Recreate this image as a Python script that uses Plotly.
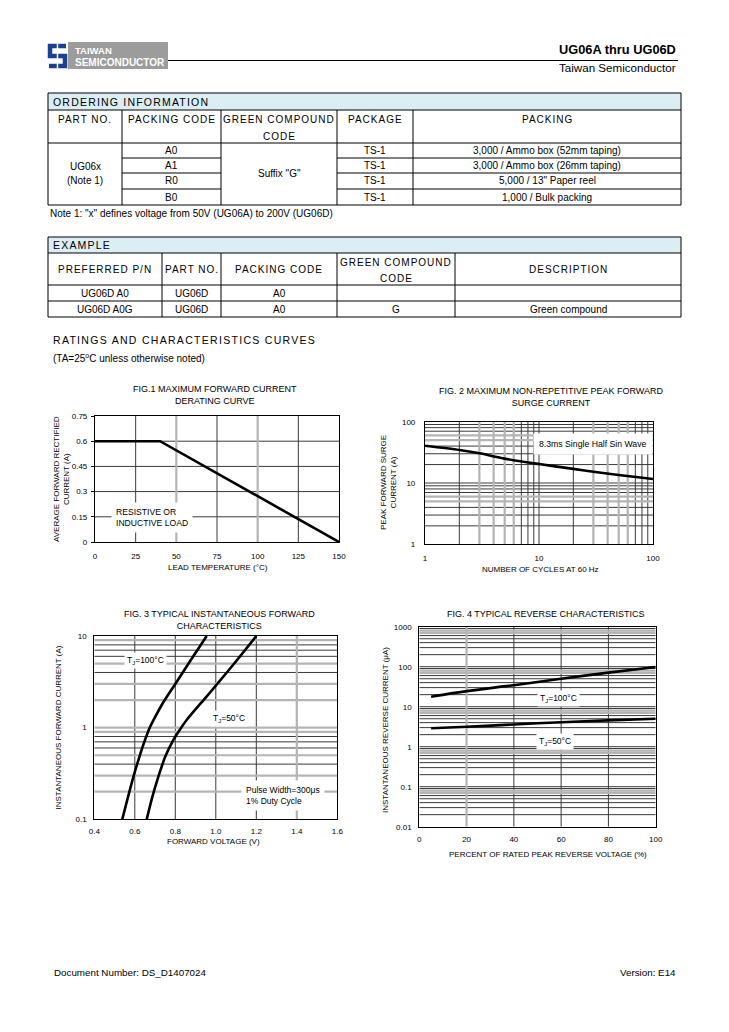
import plotly.graph_objects as go

W, H = 729, 1032
FONT = "Liberation Sans, Arial, Helvetica, sans-serif"

# ---------------- data ----------------
TITLE = "UG06A thru UG06D"
SUBTITLE = "Taiwan Semiconductor"

ORDER_TITLE = "ORDERING INFORMATION"
ORDER_HEADERS = [["PART NO."], ["PACKING CODE"], ["GREEN COMPOUND", "CODE"], ["PACKAGE"], ["PACKING"]]
ORDER_PART = ["UG06x", "(Note 1)"]
ORDER_CODES = ["A0", "A1", "R0", "B0"]
ORDER_GREEN = 'Suffix "G"'
ORDER_PACKAGE = ["TS-1", "TS-1", "TS-1", "TS-1"]
ORDER_PACKING = ["3,000 / Ammo box (52mm taping)", "3,000 / Ammo box (26mm taping)",
                 '5,000 / 13" Paper reel', "1,000 / Bulk packing"]
ORDER_NOTE = 'Note 1: "x" defines voltage from 50V (UG06A) to 200V (UG06D)'

EX_TITLE = "EXAMPLE"
EX_HEADERS = [["PREFERRED P/N"], ["PART NO."], ["PACKING CODE"], ["GREEN COMPOUND", "CODE"], ["DESCRIPTION"]]
EX_ROWS = [["UG06D A0", "UG06D", "A0", "", ""],
           ["UG06D A0G", "UG06D", "A0", "G", "Green compound"]]

SECTION = "RATINGS AND CHARACTERISTICS CURVES"
SECTION_NOTE = "(TA=25<sup>o</sup>C unless otherwise noted)"

# Fig 1
F1_TEMP = [0, 40, 150]
F1_CURRENT = [0.6, 0.6, 0.0]
F1_XTICKS = [0, 25, 50, 75, 100, 125, 150]
F1_YTICKS = [0, 0.15, 0.3, 0.45, 0.6, 0.75]
F1_YTICKTEXT = ["0", "0.15", "0.3", "0.45", "0.6", "0.75"]

# Fig 2
F2_CYCLES = [1, 2, 3, 5, 10, 20, 30, 50, 100]
F2_SURGE = [40.5, 34.6, 30.5, 25.0, 20.4, 17.0, 15.3, 13.5, 11.6]

# Fig 3
F3_V100 = [0.538, 0.565, 0.593, 0.620, 0.645, 0.672, 0.700, 0.735, 0.800, 0.875, 0.955]
F3_I100 = [0.1, 0.17, 0.29, 0.46, 0.68, 0.98, 1.3, 1.8, 3.0, 5.4, 10.0]
F3_V50 = [0.659, 0.685, 0.716, 0.750, 0.790, 0.820, 0.856, 0.947, 1.0, 1.1, 1.2]
F3_I50 = [0.1, 0.17, 0.29, 0.48, 0.73, 0.93, 1.21, 2.09, 2.87, 5.3, 10.0]
F3_XTICKS = [0.4, 0.6, 0.8, 1.0, 1.2, 1.4, 1.6]
F3_XTICKTEXT = ["0.4", "0.6", "0.8", "1.0", "1.2", "1.4", "1.6"]

# Fig 4
F4_PCT = [5, 20, 40, 60, 80, 100]
F4_I100 = [17.8, 24.5, 34.5, 50.0, 71.0, 98.0]
F4_I50 = [2.88, 3.15, 3.6, 4.1, 4.55, 5.0]
F4_YTICKS = [0.01, 0.1, 1, 10, 100, 1000]
F4_YTICKTEXT = ["0.01", "0.1", "1", "10", "100", "1000"]

FOOTER_LEFT = "Document Number: DS_D1407024"
FOOTER_RIGHT = "Version: E14"

# ---------------- helpers ----------------
def px(x):
    return x / W


def py(y):
    return 1 - y / H


annotations = []
shapes = []


def text(x, y, s, size=9, anchor="center", color="black", bold=False, ls=None,
         yanchor="middle", align=None):
    if ls:
        s = '<span style="letter-spacing:%spx">%s</span>' % (ls, s)
    if bold:
        s = "<b>%s</b>" % s
    d = dict(x=px(x), y=py(y), xref="paper", yref="paper", text=s, showarrow=False,
             xanchor=anchor, yanchor=yanchor, font=dict(family=FONT, size=size, color=color))
    if align:
        d["align"] = align
    annotations.append(d)


def hline(x0, x1, y, color="black", width=1):
    shapes.append(dict(type="line", xref="paper", yref="paper", x0=px(x0), x1=px(x1),
                       y0=py(y), y1=py(y), line=dict(color=color, width=width)))


def vline(x, y0, y1, color="black", width=1):
    shapes.append(dict(type="line", xref="paper", yref="paper", x0=px(x), x1=px(x),
                       y0=py(y0), y1=py(y1), line=dict(color=color, width=width)))


def rect(x0, y0, x1, y1, fill, line=None):
    shapes.append(dict(type="rect", xref="paper", yref="paper", x0=px(x0), x1=px(x1),
                       y0=py(y1), y1=py(y0), fillcolor=fill, layer="below",
                       line=dict(width=0 if line is None else 1, color=line or fill)))


def path(points, color, width, close=False):
    d = "M " + " L ".join("%f,%f" % (px(a), py(b)) for a, b in points)
    if close:
        d += " Z"
    shapes.append(dict(type="path", xref="paper", yref="paper", path=d,
                       line=dict(color=color, width=width),
                       fillcolor=color if close else None))


# ---------------- header ----------------
rect(68, 42, 168, 69, "#9c9c9c")
text(73, 50.5, "TAIWAN", size=9.5, anchor="left", color="white", bold=True)
text(73, 62.5, "SEMICONDUCTOR", size=10, anchor="left", color="white", bold=True)
BLUE = "#1b3f95"
path([(66, 46), (50, 46), (50, 56), (65, 56), (65, 66), (49, 66)], BLUE, 4.5)
vline(57.5, 43.5, 68.5, color="white", width=1.5)
hline(168, 678, 60.5, width=1)
text(678, 50, TITLE, size=12.8, anchor="right", bold=True)
text(678, 67.5, SUBTITLE, size=11.6, anchor="right")

LIGHT_BLUE = "#dbeef4"
BODY = 10

# ---------------- ordering table ----------------
OX = [48, 122, 221, 337, 413, 681]
OY = [93, 110, 143, 158, 173, 189, 205]
rect(OX[0], OY[0], OX[-1], OY[1], LIGHT_BLUE)
for yv in (OY[0], OY[1], OY[2], OY[-1]):
    hline(OX[0], OX[-1], yv)
for yv in OY[3:6]:
    hline(OX[1], OX[2], yv)
    hline(OX[3], OX[5], yv)
vline(OX[0], OY[0], OY[-1])
vline(OX[-1], OY[0], OY[-1])
for xv in OX[1:-1]:
    vline(xv, OY[1], OY[-1])
text(OX[0] + 3, (OY[0] + OY[1]) / 2 + 0.5, ORDER_TITLE, size=10.5, anchor="left", ls=1.2)
for i, lines in enumerate(ORDER_HEADERS):
    cx = (OX[i] + OX[i + 1]) / 2
    for j, ln in enumerate(lines):
        text(cx, 119.5 + 17 * j, ln, size=10, ls=1)
text((OX[0] + OX[1]) / 2, 166.5, ORDER_PART[0], size=BODY)
text((OX[0] + OX[1]) / 2, 180.5, ORDER_PART[1], size=BODY)
text((OX[2] + OX[3]) / 2, 174, ORDER_GREEN, size=BODY)
for r in range(4):
    cy = (OY[2 + r] + OY[3 + r]) / 2
    text((OX[1] + OX[2]) / 2, cy, ORDER_CODES[r], size=BODY)
    text((OX[3] + OX[4]) / 2, cy, ORDER_PACKAGE[r], size=BODY)
    text((OX[4] + OX[5]) / 2, cy, ORDER_PACKING[r], size=BODY)
text(48, 213, ORDER_NOTE, size=BODY, anchor="left")

# ---------------- example table ----------------
EX = [48, 162, 221, 337, 455, 681]
EY = [237, 253, 285, 301, 317]
rect(EX[0], EY[0], EX[-1], EY[1], LIGHT_BLUE)
for yv in EY:
    hline(EX[0], EX[-1], yv)
vline(EX[0], EY[0], EY[-1])
vline(EX[-1], EY[0], EY[-1])
for xv in EX[1:-1]:
    vline(xv, EY[1], EY[-1])
text(EX[0] + 3, (EY[0] + EY[1]) / 2 + 0.5, EX_TITLE, size=10.5, anchor="left", ls=1.2)
for i, lines in enumerate(EX_HEADERS):
    cx = (EX[i] + EX[i + 1]) / 2
    if len(lines) == 1:
        text(cx, 269.5, lines[0], size=10, ls=1)
    else:
        text(cx, 262, lines[0], size=10, ls=1)
        text(cx, 278, lines[1], size=10, ls=1)
for r, row in enumerate(EX_ROWS):
    cy = (EY[2 + r] + EY[3 + r]) / 2
    for i, val in enumerate(row):
        if val:
            text((EX[i] + EX[i + 1]) / 2, cy, val, size=BODY)

text(51, 340, SECTION, size=10.5, anchor="left", ls=1.3)
text(51, 358, SECTION_NOTE, size=BODY, anchor="left")

# ---------------- charts ----------------
fig = go.Figure()

DARK = "#3a3a3a"
GRAY = "#b4b4b4"


def grid(xs, ys, xr, yr, color, width, k):
    gx, gy = [], []
    for v in xs:
        gx += [v, v, None]
        gy += [yr[0], yr[1], None]
    for v in ys:
        gx += [xr[0], xr[1], None]
        gy += [v, v, None]
    fig.add_trace(go.Scatter(x=gx, y=gy, mode="lines", line=dict(color=color, width=width),
                             hoverinfo="skip", showlegend=False,
                             xaxis="x%s" % ("" if k == 1 else k), yaxis="y%s" % ("" if k == 1 else k)))


def curve(xv, yv, k, shape="linear"):
    fig.add_trace(go.Scatter(x=xv, y=yv, mode="lines",
                             line=dict(color="black", width=2.6, shape=shape, smoothing=0.8),
                             hoverinfo="skip", showlegend=False,
                             xaxis="x%s" % ("" if k == 1 else k), yaxis="y%s" % ("" if k == 1 else k)))


def log_minor(decades, gray_m):
    dark, gray = [], []
    for d in decades:
        for m in range(2, 10):
            (gray if m in gray_m else dark).append(m * 10 ** d)
    return dark, gray


# Fig 1 grid
grid([25, 75, 125], [0.15, 0.3, 0.45, 0.6], [0, 150], [0, 0.75], DARK, 1, 1)
grid([50, 100], [], [0, 150], [0, 0.75], GRAY, 2.2, 1)
curve(F1_TEMP, F1_CURRENT, 1)

# Fig 2 grid
d2x, g2x = log_minor([0, 1], {3, 4, 5, 6})
d2y, g2y = log_minor([0, 1], {5, 6})
grid(d2x + [10], d2y + [10], [1, 100], [1, 100], DARK, 1, 2)
grid(g2x, g2y, [1, 100], [1, 100], GRAY, 2.2, 2)
curve(F2_CYCLES, F2_SURGE, 2, "spline")

# Fig 3 grid
d3y, g3y = log_minor([-1, 0], {2, 3, 5, 9})
grid([0.6, 0.8, 1.0, 1.2], d3y, [0.4, 1.6], [0.1, 10], DARK, 1, 3)
grid([1.4], g3y + [1], [0.4, 1.6], [0.1, 10], GRAY, 2.2, 3)
curve(F3_V100, F3_I100, 3, "spline")
curve(F3_V50, F3_I50, 3, "spline")

# Fig 4 grid
d4y, g4y = log_minor([-2, -1, 0, 1, 2], {7, 8})
grid([40, 60, 80], d4y + [0.1, 1, 10, 100], [0, 100], [0.01, 1000], DARK, 1, 4)
grid([20], g4y, [0, 100], [0.01, 1000], GRAY, 2.2, 4)
curve(F4_PCT, F4_I100, 4, "spline")
curve(F4_PCT, F4_I50, 4, "spline")

TICKFONT = dict(family=FONT, size=8, color="black")


def ax(domain, **kw):
    d = dict(domain=domain, showgrid=False, zeroline=False, showline=True, mirror=True,
             linecolor="black", linewidth=1.2, ticks="", tickfont=TICKFONT, fixedrange=True,
             automargin=False)
    d.update(kw)
    return d


layout_axes = dict(
    xaxis=ax([px(95), px(339)], range=[0, 150], tickvals=F1_XTICKS, anchor="y", ticklabelstandoff=6),
    yaxis=ax([py(542), py(416)], range=[0, 0.75], tickvals=F1_YTICKS, ticktext=F1_YTICKTEXT,
             anchor="x", ticks="outside", ticklen=3, tickcolor="black", ticklabelstandoff=2),
    xaxis2=ax([px(425), px(653)], type="log", range=[0, 2], tickvals=[1, 10, 100],
              ticktext=["1", "10", "100"], anchor="y2", ticklabelstandoff=6),
    yaxis2=ax([py(544.3), py(421.7)], type="log", range=[0, 2], tickvals=[1, 10, 100],
              ticktext=["1", "10", "100"], anchor="x2", ticklabelstandoff=7),
    xaxis3=ax([px(94.3), px(337.3)], range=[0.4, 1.6], tickvals=F3_XTICKS, ticktext=F3_XTICKTEXT,
              anchor="y3", ticklabelstandoff=4),
    yaxis3=ax([py(819.3), py(636)], type="log", range=[-1, 1], tickvals=[0.1, 1, 10],
              ticktext=["0.1", "1", "10"], anchor="x3", ticklabelstandoff=5),
    xaxis4=ax([px(419.3), px(655.7)], range=[0, 100], tickvals=[0, 20, 40, 60, 80, 100],
              anchor="y4", ticklabelstandoff=5),
    yaxis4=ax([py(826.7), py(626.7)], type="log", range=[-2, 3], tickvals=F4_YTICKS,
              ticktext=F4_YTICKTEXT, anchor="x4", ticklabelstandoff=5),
)

# chart titles
TSZ = 9
text(215, 395, "FIG.1 MAXIMUM FORWARD CURRENT<br>DERATING CURVE", size=TSZ)
text(551, 396.5, "FIG. 2 MAXIMUM NON-REPETITIVE PEAK FORWARD<br>SURGE CURRENT", size=TSZ)
text(220, 619.5, "FIG. 3 TYPICAL INSTANTANEOUS FORWARD<br>CHARACTERISTICS", size=TSZ)
text(546, 613.5, "FIG. 4 TYPICAL REVERSE CHARACTERISTICS", size=TSZ)

# axis titles
text(218, 567.5, "LEAD TEMPERATURE (°C)", size=8)
text(540, 569, "NUMBER OF CYCLES AT 60 Hz", size=8)
text(213, 841, "FORWARD VOLTAGE (V)", size=8)
text(548, 854.5, "PERCENT OF RATED PEAK REVERSE VOLTAGE (%)", size=8)


def vtext(x, y, s, size=8):
    annotations.append(dict(x=px(x), y=py(y), xref="paper", yref="paper", text=s,
                            showarrow=False, textangle=-90, xanchor="center", yanchor="middle",
                            font=dict(family=FONT, size=size, color="black")))


vtext(62, 479, "AVERAGE FORWARD RECTIFIED<br>CURRENT (A)")
vtext(389, 483, "PEAK FORWARD SURGE<br>CURRENT (A)")
vtext(57.5, 728, "INSTANTANEOUS FORWARD CURRENT (A)")
vtext(385, 730, "INSTANTANEOUS REVERSE CURRENT (μA)")


def label(x, y, s, k, size=8, pad=3, anchor="center", align="center"):
    annotations.append(dict(x=x, y=y, xref="x%s" % ("" if k == 1 else k),
                            yref="y%s" % ("" if k == 1 else k), text=s, showarrow=False,
                            xanchor=anchor, yanchor="middle", align=align, bgcolor="white",
                            borderpad=pad, font=dict(family=FONT, size=size, color="black")))


label(9.8, 0.143, "RESISTIVE OR<br>INDUCTIVE LOAD", 1, size=8.6, pad=4, anchor="left", align="left")
label(1.47, 1.644, "8.3ms Single Half Sin Wave", 2, size=8.7, pad=5)
label(0.653, 0.738, "T<sub>J</sub>=100°C", 3, size=8.5, pad=2)
label(1.065, 0.095, "T<sub>J</sub>=50°C", 3, size=8.5, pad=2)
label(1.125, -0.745, "Pulse Width=300μs<br>1% Duty Cycle", 3, size=8.5, pad=4, anchor="left", align="left")
label(58.7, 1.205, "T<sub>J</sub>=100°C", 4, size=8.5, pad=2)
label(57.4, 0.13, "T<sub>J</sub>=50°C", 4, size=8.5, pad=2)

# footer
text(52, 972, FOOTER_LEFT, size=9.8, anchor="left")
text(678, 972, FOOTER_RIGHT, size=9.8, anchor="right")

fig.update_layout(
    width=W, height=H, margin=dict(l=0, r=0, t=0, b=0, pad=0, autoexpand=False),
    paper_bgcolor="white", plot_bgcolor="white", showlegend=False,
    font=dict(family=FONT, size=9, color="black"),
    annotations=annotations, shapes=shapes, **layout_axes,
)

fig.write_html(
    "out.html",
    config={"displayModeBar": False},
    post_script="document.body.style.margin='0px';document.body.style.padding='0px';"
                "document.documentElement.style.overflow='hidden';",
)
